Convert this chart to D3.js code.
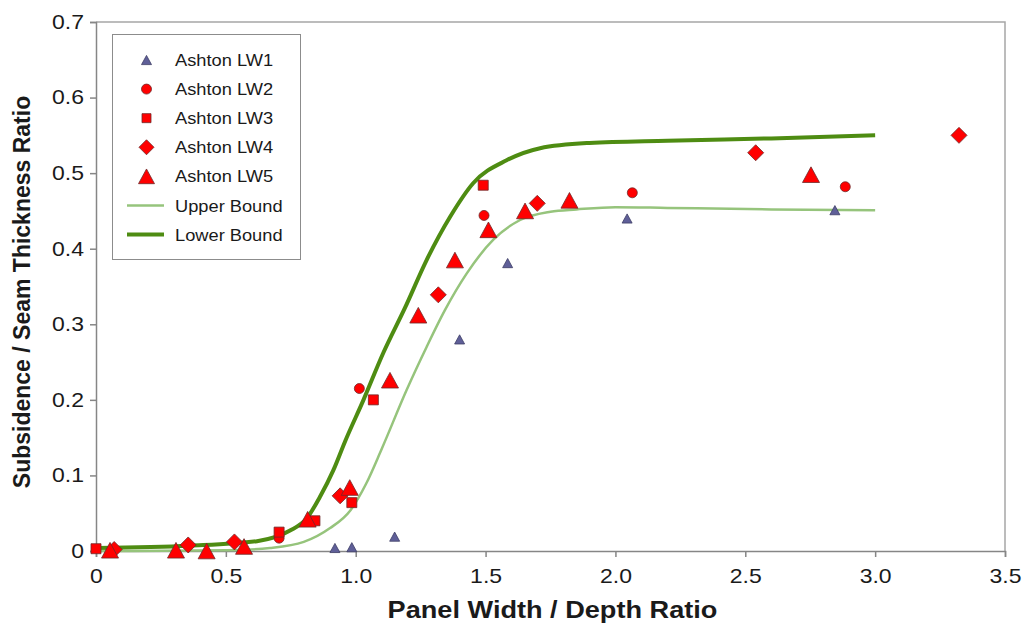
<!DOCTYPE html>
<html>
<head>
<meta charset="utf-8">
<script src="https://cdn.jsdelivr.net/npm/d3@7"></script>
<style>
  html, body { margin: 0; padding: 0; background: #fff; }
  svg { display: block; font-family: "Liberation Sans", Arial, sans-serif; }
</style>
</head>
<body>
<svg id="chart" width="1024" height="624"></svg>
<script>
// Measured subsidence ratios for each longwall panel
const lw1X = [0.92, 0.985, 1.15, 1.40, 1.585, 2.045, 2.845];
const lw1Y = [0.004, 0.005, 0.019, 0.280, 0.381, 0.440, 0.451];

const lw2X = [0.705, 1.014, 1.494, 2.065, 2.885];
const lw2Y = [0.017, 0.215, 0.444, 0.474, 0.482];

const lw3X = [0.0, 0.705, 0.843, 0.985, 1.068, 1.491];
const lw3Y = [0.003, 0.025, 0.040, 0.064, 0.200, 0.484];

const lw4X = [0.07, 0.355, 0.533, 0.94, 1.318, 1.699, 2.54, 3.323];
const lw4Y = [0.002, 0.008, 0.012, 0.073, 0.339, 0.460, 0.527, 0.550];

const lw5X = [0.054, 0.308, 0.426, 0.57, 0.815, 0.977, 1.132, 1.241, 1.382, 1.511, 1.652, 1.823, 2.753];
const lw5Y = [0.001, 0.001, 0.0, 0.006, 0.042, 0.084, 0.226, 0.312, 0.385, 0.425, 0.450, 0.464, 0.498];

// Envelope curves
const upperX = [0, 0.5, 0.67, 0.8, 0.9, 0.98, 1.04, 1.1, 1.196, 1.273, 1.344, 1.427, 1.53, 1.633, 1.75, 1.85, 2.0, 2.2, 2.6, 3.0];
const upperY = [0, 0.001, 0.004, 0.012, 0.030, 0.054, 0.089, 0.135, 0.213, 0.270, 0.319, 0.367, 0.412, 0.438, 0.449, 0.452, 0.455, 0.454, 0.452, 0.451];

const lowerX = [0, 0.36, 0.62, 0.747, 0.811, 0.863, 0.914, 0.959, 1.03, 1.106, 1.19, 1.273, 1.363, 1.453, 1.581, 1.71, 1.9, 2.2, 2.6, 3.0];
const lowerY = [0.004, 0.007, 0.013, 0.027, 0.043, 0.072, 0.107, 0.145, 0.200, 0.262, 0.322, 0.385, 0.442, 0.487, 0.517, 0.533, 0.540, 0.543, 0.546, 0.550];

const xTicks = [0, 0.5, 1.0, 1.5, 2.0, 2.5, 3.0, 3.5];
const xTickLabels = ["0", "0.5", "1.0", "1.5", "2.0", "2.5", "3.0", "3.5"];
const yTicks = [0, 0.1, 0.2, 0.3, 0.4, 0.5, 0.6, 0.7];
const yTickLabels = ["0", "0.1", "0.2", "0.3", "0.4", "0.5", "0.6", "0.7"];

const seriesNames = ["Ashton LW1", "Ashton LW2", "Ashton LW3", "Ashton LW4", "Ashton LW5", "Upper Bound", "Lower Bound"];

const svg = d3.select("#chart");
const L = 96, R = 1005, T = 22, B = 551;

const x = d3.scaleLinear().domain([0, 3.5]).range([L, R]);
const y = d3.scaleLinear().domain([0, 0.7]).range([B, T]);

const axisColor = "#868686";
const textColor = "#1a1a1a";
const red = "#ff0000", redEdge = "#6e2a2a";
const slate = "#5f5f98", slateEdge = "#3e3e66";
const darkGreen = "#4e8c12", lightGreen = "#96c47c";

// Horizontal text is drawn slightly widened
const tickStretch = 1.15, titleStretch = 1.18, legendStretch = 1.075;

// Plot frame (top and right edges)
svg.append("path")
  .attr("d", `M${L},${T}H${R}V${B}`)
  .attr("fill", "none").attr("stroke", "#a6a6a6").attr("stroke-width", 1.5);

// Axes
const xAxis = d3.axisBottom(x).tickValues(xTicks)
  .tickFormat((d, i) => xTickLabels[i]).tickSize(6).tickPadding(12);
const yAxis = d3.axisLeft(y).tickValues(yTicks)
  .tickFormat((d, i) => yTickLabels[i]).tickSize(6).tickPadding(5);

const gx = svg.append("g").attr("transform", `translate(0,${B})`).call(xAxis);
const gy = svg.append("g").attr("transform", `translate(${L},0)`).call(yAxis);
[gx, gy].forEach(g => {
  g.select(".domain").attr("stroke", axisColor).attr("stroke-width", 1.5);
  g.selectAll(".tick line").attr("stroke", axisColor).attr("stroke-width", 1.5);
  g.selectAll(".tick text").attr("fill", textColor)
    .style("font-size", "20px").style("font-family", "'Liberation Sans', Arial, sans-serif");
});
gx.selectAll(".tick text").attr("transform", `scale(${tickStretch},1)`);
gy.selectAll(".tick text")
  .attr("x", null)
  .attr("transform", `translate(-12,0) scale(${tickStretch},1)`);

// Axis titles
svg.append("text")
  .attr("transform", `translate(${(L + R) / 2 + 2},618) scale(${titleStretch},1)`)
  .attr("text-anchor", "middle")
  .style("font-size", "23px").style("font-weight", "bold").attr("fill", textColor)
  .text("Panel Width / Depth Ratio");
svg.append("text")
  .attr("transform", `translate(30,292) rotate(-90)`)
  .attr("text-anchor", "middle")
  .style("font-size", "23px").style("font-weight", "bold").attr("fill", textColor)
  .text("Subsidence / Seam Thickness Ratio");

// Bound curves
const line = d3.line().x(d => x(d[0])).y(d => y(d[1])).curve(d3.curveMonotoneX);
const upperPts = upperX.map((v, i) => [v, upperY[i]]);
const lowerPts = lowerX.map((v, i) => [v, lowerY[i]]);
svg.append("path").datum(upperPts).attr("d", line)
  .attr("fill", "none").attr("stroke", lightGreen).attr("stroke-width", 2.5);
svg.append("path").datum(lowerPts).attr("d", line)
  .attr("fill", "none").attr("stroke", darkGreen).attr("stroke-width", 4);

// Marker shapes, centred on their bounding box
function markerPath(shape, s) {
  const h = s / 2;
  switch (shape) {
    case "triangle": {
      const th = s * 0.92 / 2;
      return `M0,${-th}L${h},${th}L${-h},${th}Z`;
    }
    case "square": return `M${-h},${-h}H${h}V${h}H${-h}Z`;
    case "diamond": return `M0,${-h}L${h},0L0,${h}L${-h},0Z`;
    case "circle":
      return `M${h},0A${h},${h} 0 1,1 ${-h},0A${h},${h} 0 1,1 ${h},0Z`;
  }
}

const series = [
  { name: seriesNames[0], xs: lw1X, ys: lw1Y, shape: "triangle", size: 10, fill: slate, edge: slateEdge },
  { name: seriesNames[3], xs: lw4X, ys: lw4Y, shape: "diamond", size: 16, fill: red, edge: redEdge },
  { name: seriesNames[1], xs: lw2X, ys: lw2Y, shape: "circle", size: 10, fill: red, edge: redEdge },
  { name: seriesNames[2], xs: lw3X, ys: lw3Y, shape: "square", size: 10, fill: red, edge: redEdge },
  { name: seriesNames[4], xs: lw5X, ys: lw5Y, shape: "triangle", size: 17, fill: red, edge: redEdge }
];

series.forEach(s => {
  svg.append("g").selectAll("path")
    .data(s.xs.map((v, i) => [v, s.ys[i]]))
    .join("path")
    .attr("transform", d => `translate(${x(d[0])},${y(d[1])})`)
    .attr("d", markerPath(s.shape, s.size))
    .attr("fill", s.fill).attr("stroke", s.edge).attr("stroke-width", 0.8);
});

// Legend
const lg = svg.append("g");
lg.append("rect").attr("x", 112.5).attr("y", 34.5).attr("width", 188).attr("height", 225)
  .attr("fill", "#fff").attr("stroke", "#8c8c8c").attr("stroke-width", 1);

const legendItems = [
  { name: seriesNames[0], shape: "triangle", size: 10, fill: slate, edge: slateEdge },
  { name: seriesNames[1], shape: "circle", size: 10, fill: red, edge: redEdge },
  { name: seriesNames[2], shape: "square", size: 9, fill: red, edge: redEdge },
  { name: seriesNames[3], shape: "diamond", size: 15, fill: red, edge: redEdge },
  { name: seriesNames[4], shape: "triangle", size: 16, fill: red, edge: redEdge },
  { name: seriesNames[5], line: lightGreen, width: 2.5 },
  { name: seriesNames[6], line: darkGreen, width: 4 }
];
const rowY = d3.scaleLinear().domain([0, 6]).range([60, 234.5]);
legendItems.forEach((it, i) => {
  const cy = rowY(i);
  if (it.line) {
    lg.append("line").attr("x1", 127).attr("x2", 164).attr("y1", cy).attr("y2", cy)
      .attr("stroke", it.line).attr("stroke-width", it.width);
  } else {
    lg.append("path").attr("transform", `translate(146.5,${cy})`)
      .attr("d", markerPath(it.shape, it.size))
      .attr("fill", it.fill).attr("stroke", it.edge).attr("stroke-width", 0.8);
  }
  lg.append("text")
    .attr("transform", `translate(175,${cy}) scale(${legendStretch},1)`)
    .attr("dy", "0.36em")
    .style("font-size", "17px").attr("fill", textColor).text(it.name);
});
</script>
</body>
</html>
